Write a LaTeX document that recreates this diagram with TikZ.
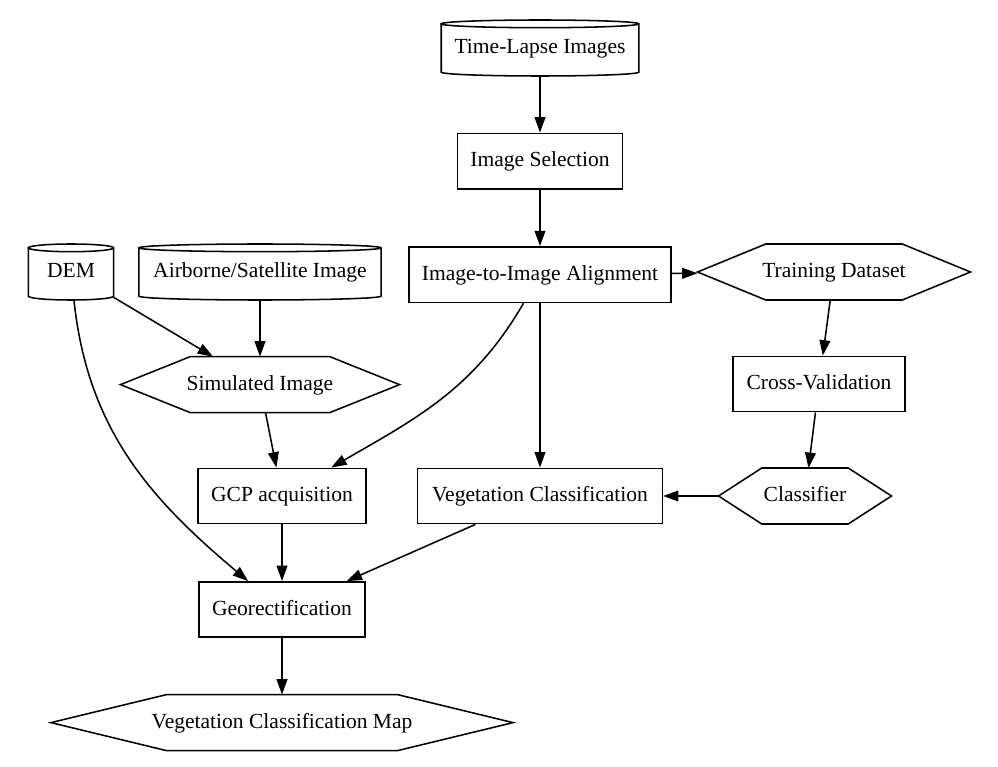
\documentclass[tikz,border=0pt]{standalone}
\usepackage{fontspec}
\setmainfont{Liberation Serif}
\usetikzlibrary{arrows.meta, positioning, calc}

\begin{document}
\begin{tikzpicture}[
        x=0.65pt, y=0.65pt,
        node distance=36.8pt,
        base/.style={minimum height=36pt, inner sep=0pt, text height=10pt, text depth=2.4pt, align=center, font=\fontsize{14}{17}\selectfont},
        box/.style={base, rectangle, draw, line width=1pt},
        hexa/.style={base, rectangle},
        store/.style={base, rectangle},
        flow/.style={-{Triangle[length=10pt, width=7pt]}, line width=1pt}
    ]
    \useasboundingbox (0,0) rectangle (998,-767);

    % main column
    \node[store, minimum width=128pt] (tl) at (540,-48) {Time-Lapse Images};
    \node[box, minimum width=107pt, below=of tl] (sel) {Image Selection};
    \node[box, minimum width=170pt, below=of sel] (ita) {Image-to-Image Alignment};
    \node[hexa, minimum width=177pt] (td) at (834,-272) {Training Dataset};
    \node[box, minimum width=112pt] (cv) at (819,-384) {Cross-Validation};
    \node[hexa, minimum width=112pt] (clf) at (805,-496) {Classifier};
    \node[box, minimum width=159pt] (vc) at (540,-496) {Vegetation Classification};

    % left side
    \node[store, minimum width=55pt] (dem) at (71,-272) {DEM};
    \node[store, minimum width=157pt] (air) at (260,-272) {Airborne/Satellite Image};
    \node[hexa, minimum width=181pt, below=of air] (sim) {Simulated Image};
    \node[box, minimum width=109pt] (gcp) at (282,-496) {GCP acquisition};
    \node[box, minimum width=108pt, below=of gcp] (geo) {Georectification};
    \node[hexa, minimum width=300pt, below=of geo] (map) {Vegetation Classification Map};

    % outlines
    \foreach \nm in {td, clf, sim, map}{
        \draw[line width=1pt] (\nm.west) -- ($(\nm.north west)!0.25!(\nm.north east)$) -- ($(\nm.north west)!0.75!(\nm.north east)$) -- (\nm.east) -- ($(\nm.south west)!0.75!(\nm.south east)$) -- ($(\nm.south west)!0.25!(\nm.south east)$) -- cycle;
    }
    \foreach \nm in {tl, dem, air}{
        \draw[line width=1pt] let \p1=(\nm.north west), \p2=(\nm.south east), \n1={(\x2-\x1)/2} in
            (\x1,\y1-2.5pt) -- (\x1,\y2+2.5pt) arc[start angle=180, end angle=360, x radius=\n1, y radius=2.5pt]
            -- (\x2,\y1-2.5pt) arc[start angle=0, end angle=360, x radius=\n1, y radius=2.5pt];
    }

    \draw[flow] (tl) -- (sel);
    \draw[flow] (sel) -- (ita);
    \draw[flow] (ita) -- (td);
    \draw[flow] (td) -- (cv);
    \draw[flow] (cv) -- (clf);
    \draw[flow] (clf) -- (vc);
    \draw[flow] (ita) -- (vc);
    \draw[flow] (ita) to[out=-120, in=30] (gcp);
    \draw[flow] (dem) -- (sim);
    \draw[flow] (dem) to[out=-84, in=140] (geo);
    \draw[flow] (air) -- (sim);
    \draw[flow] (sim) -- (gcp);
    \draw[flow] (gcp) -- (geo);
    \draw[flow] (vc) -- (geo);
    \draw[flow] (geo) -- (map);
\end{tikzpicture}
\end{document}
